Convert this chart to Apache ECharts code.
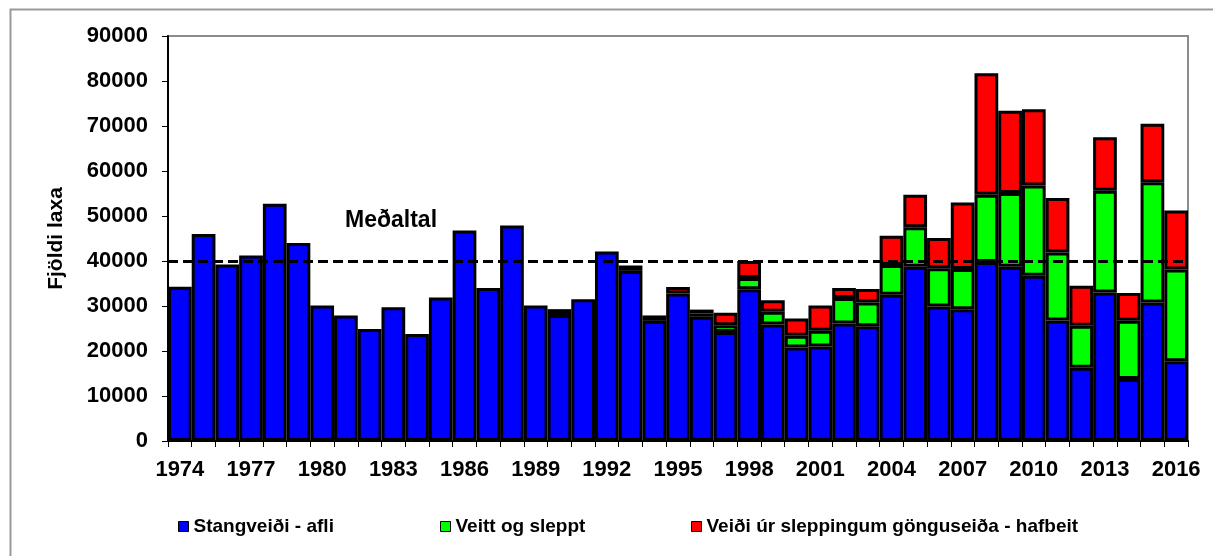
<!DOCTYPE html>
<html>
<head>
<meta charset="utf-8">
<script src="https://cdn.jsdelivr.net/npm/echarts@6/dist/echarts.min.js"></script>
<style>
html,body{margin:0;padding:0;background:#fff;}
#c{width:1213px;height:556px;}
</style>
</head>
<body>
<div id="c"></div>
<script>
var years = [];
for (var y = 1974; y <= 2016; y++) years.push(String(y));

var stangveidi = [34300,46000,39200,41200,52700,44000,30100,27900,24900,29700,23800,31900,46800,34000,47900,30100,28000,31500,42100,37800,26700,32800,27600,24200,33700,25900,20800,21000,26100,25500,32500,38700,29900,29300,39800,38700,36700,26800,16300,33000,13800,30800,17700];
var veittSleppt = [null,null,null,null,null,null,null,null,null,null,null,null,null,null,null,null,null,null,null,null,null,null,700,1500,2500,2800,2600,3500,5700,5300,6600,8800,8500,8900,14900,16400,20100,15100,9300,22600,12900,26700,20400];
var hafbeit = [null,null,null,null,null,null,null,null,null,null,null,null,null,null,null,null,1300,null,null,1200,1200,1400,900,2800,3800,2600,3800,5600,2200,3000,6500,7200,6700,14800,27000,18300,16900,12100,8900,11900,6200,13000,13100];

var seriesNames = ['Stangveiði - afli','Veitt og sleppt','Veiði úr sleppingum gönguseiða - hafbeit'];
var meanValue = 40000;
var meanLabel = 'Meðaltal';
var yName = 'Fjöldi laxa';

var FONT = '"Liberation Sans", Arial, sans-serif';
var chart = echarts.init(document.getElementById('c'), null, {renderer:'canvas'});

function barSeries(name, data, color, withMark) {
  var s = {
    name: name, type: 'bar', stack: 'total', data: data,
    barCategoryGap: '0%',
    itemStyle: {color: color, borderColor: '#000', borderWidth: 3},
    emphasis: {disabled: true}
  };
  if (withMark) {
    s.markLine = {
      silent: true, symbol: 'none', label: {show: false},
      lineStyle: {color: '#000', width: 3, type: [10, 5]},
      data: [{yAxis: meanValue}]
    };
  }
  return s;
}

function legendAt(left, name) {
  return {
    left: left, top: 517, padding: 0, data: [name],
    icon: 'rect', itemWidth: 10, itemHeight: 10, itemGap: 0,
    selectedMode: false,
    itemStyle: {borderColor: '#000', borderWidth: 1},
    textStyle: {fontFamily: FONT, fontWeight: 'bold', fontSize: 19, color: '#000'}
  };
}

chart.setOption({
  animation: false,
  backgroundColor: '#fff',
  grid: {left: 168, right: 25, top: 36, bottom: 115, show: true, borderColor: '#8c8c8c', borderWidth: 2, backgroundColor: 'transparent'},
  legend: [
    legendAt(178, seriesNames[0]),
    legendAt(440, seriesNames[1]),
    legendAt(691, seriesNames[2])
  ],
  xAxis: {
    type: 'category', data: years,
    axisLine: {lineStyle: {color: '#000', width: 2}},
    axisTick: {show: true, interval: 0, length: 6, lineStyle: {color: '#000', width: 1}},
    axisLabel: {interval: 2, margin: 18, fontFamily: FONT, fontWeight: 'bold', fontSize: 22, color: '#000'}
  },
  yAxis: {
    type: 'value', min: 0, max: 90000, interval: 10000,
    name: yName, nameLocation: 'middle', nameGap: 101,
    nameTextStyle: {fontFamily: FONT, fontWeight: 'bold', fontSize: 21, color: '#000'},
    axisLine: {show: true, lineStyle: {color: '#000', width: 2}},
    axisTick: {show: true, length: 6, lineStyle: {color: '#000', width: 1}},
    splitLine: {show: false},
    axisLabel: {margin: 20, formatter: function (v) { return String(v); }, fontFamily: FONT, fontWeight: 'bold', fontSize: 22, color: '#000'}
  },
  graphic: [
    {type: 'rect', left: 8, top: 7, shape: {width: 1400, height: 800}, style: {fill: 'none', stroke: '#999', lineWidth: 2}, silent: true, z: -10},
    {type: 'text', left: 345, top: 209, style: {text: meanLabel, font: 'bold 23px ' + FONT, fill: '#000'}, z: 10}
  ],
  series: [
    barSeries(seriesNames[0], stangveidi, '#0000ff', true),
    barSeries(seriesNames[1], veittSleppt, '#00ff00', false),
    barSeries(seriesNames[2], hafbeit, '#ff0000', false)
  ]
});
</script>
</body>
</html>
